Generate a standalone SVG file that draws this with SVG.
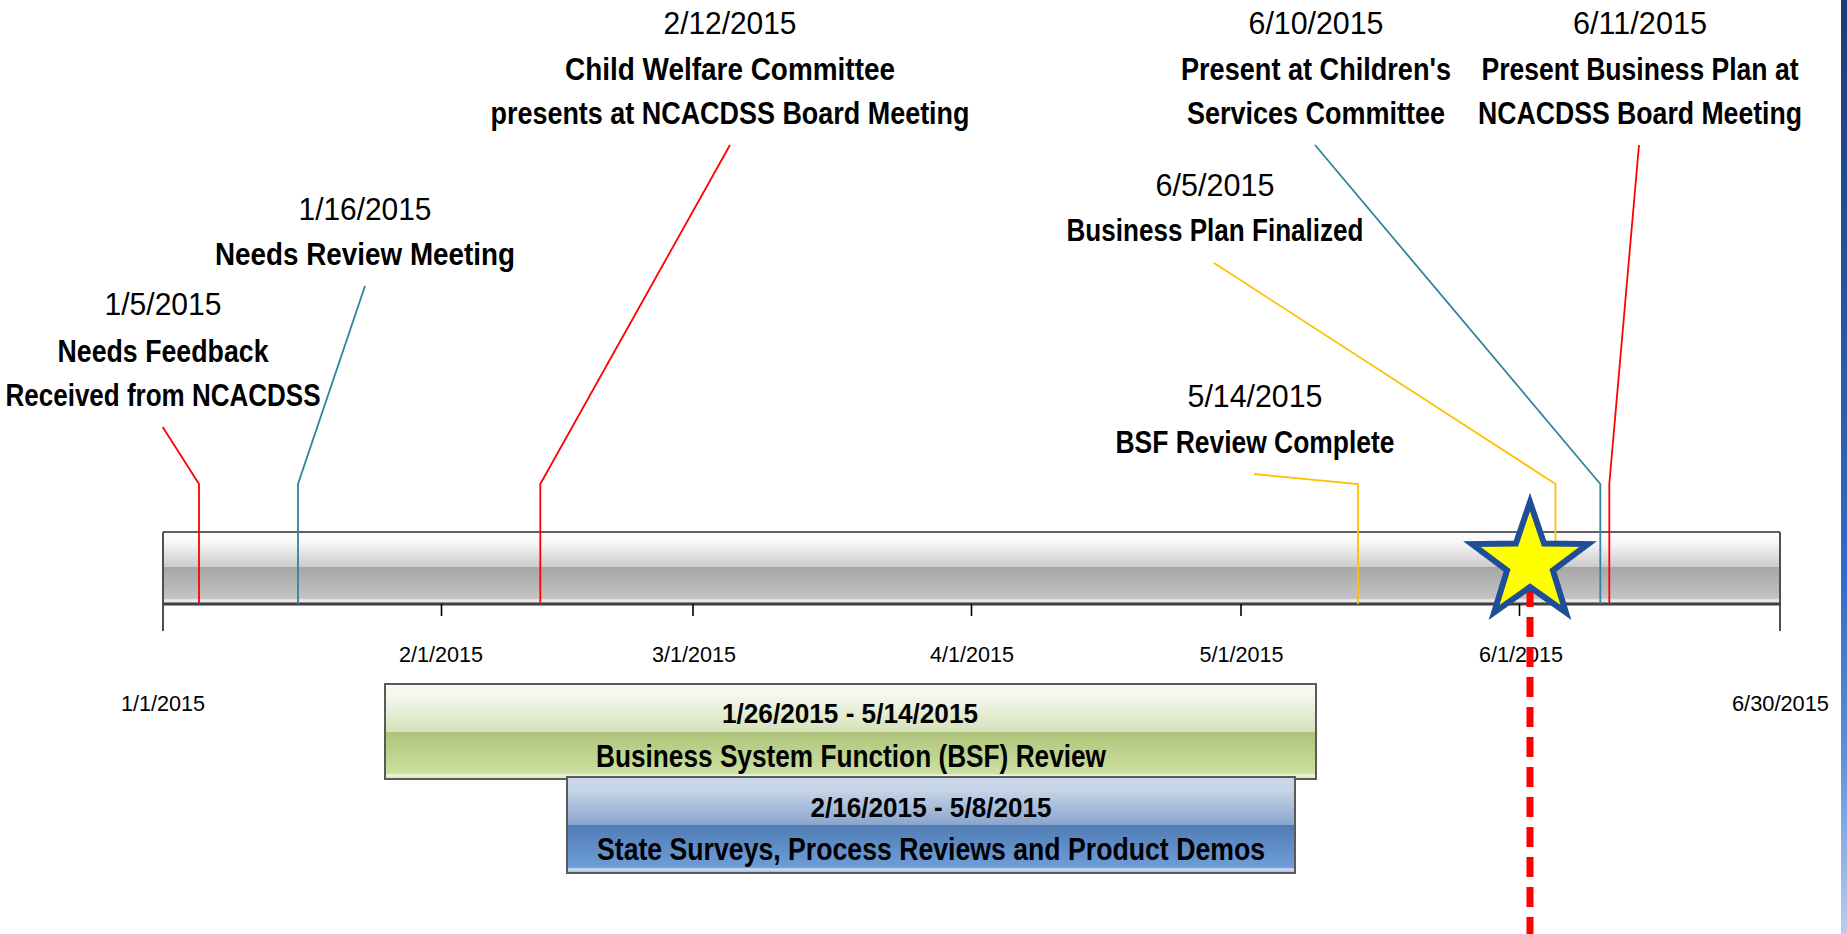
<svg xmlns="http://www.w3.org/2000/svg" width="1847" height="934" viewBox="0 0 1847 934">
  <defs>
    <linearGradient id="barGrad" x1="0" y1="0" x2="0" y2="1">
      <stop offset="0" stop-color="#FFFFFF"/>
      <stop offset="0.15" stop-color="#F6F6F6"/>
      <stop offset="0.48" stop-color="#CCCCCC"/>
      <stop offset="0.485" stop-color="#A6A6A6"/>
      <stop offset="0.92" stop-color="#C3C3C3"/>
      <stop offset="0.945" stop-color="#EDEDED"/>
      <stop offset="1" stop-color="#D8D8D8"/>
    </linearGradient>
    <linearGradient id="greenGrad" x1="0" y1="0" x2="0" y2="1">
      <stop offset="0" stop-color="#F8FAF4"/>
      <stop offset="0.15" stop-color="#F2F6EA"/>
      <stop offset="0.5" stop-color="#D5E1BA"/>
      <stop offset="0.505" stop-color="#AEC47A"/>
      <stop offset="0.94" stop-color="#CCE0A0"/>
      <stop offset="0.96" stop-color="#EEF5DE"/>
      <stop offset="1" stop-color="#D4E4AE"/>
    </linearGradient>
    <linearGradient id="blueGrad" x1="0" y1="0" x2="0" y2="1">
      <stop offset="0" stop-color="#CAD7E8"/>
      <stop offset="0.15" stop-color="#C4D3E6"/>
      <stop offset="0.5" stop-color="#89A5CE"/>
      <stop offset="0.505" stop-color="#517DB4"/>
      <stop offset="0.94" stop-color="#6E9DD8"/>
      <stop offset="0.96" stop-color="#D6E2F2"/>
      <stop offset="1" stop-color="#8FB0DC"/>
    </linearGradient>
    <linearGradient id="stripGrad" x1="0" y1="0" x2="0" y2="1">
      <stop offset="0" stop-color="#1F3B74"/>
      <stop offset="0.35" stop-color="#2856A6"/>
      <stop offset="0.62" stop-color="#2F6CCB"/>
      <stop offset="0.8" stop-color="#5A8EDC"/>
      <stop offset="1" stop-color="#B9CDEF"/>
    </linearGradient>
  </defs>
  <style>
    .date { font-family: "Liberation Sans", Arial, sans-serif; font-size: 32px; fill: #000; text-anchor: middle; }
    .title { font-family: "Liberation Sans", Arial, sans-serif; font-size: 32px; font-weight: bold; fill: #000; text-anchor: middle; }
    .tick-label { font-family: "Liberation Sans", Arial, sans-serif; font-size: 22.5px; fill: #000; text-anchor: middle; }
    .bar-date { font-family: "Liberation Sans", Arial, sans-serif; font-size: 28px; font-weight: bold; fill: #000; text-anchor: middle; }
    .bar-title { font-family: "Liberation Sans", Arial, sans-serif; font-size: 32px; font-weight: bold; fill: #000; text-anchor: middle; }
    .conn { fill: none; stroke-width: 1.8; }
    .red { stroke: #FF0000; }
    .teal { stroke: #31849B; }
    .yellow { stroke: #FFC000; }
    .tick { stroke: #000; stroke-width: 1.6; }
  </style>

  <rect x="0" y="0" width="1847" height="934" fill="#FFFFFF"/>
  <rect x="1841" y="0" width="6" height="934" fill="url(#stripGrad)"/>

  <!-- Timeline bar -->
  <g id="timeline">
    <rect x="163" y="532" width="1617" height="72" fill="url(#barGrad)"/>
    <line x1="163" y1="532" x2="1780" y2="532" stroke="#606060" stroke-width="2"/>
    <line x1="163" y1="532" x2="163" y2="631" stroke="#505050" stroke-width="2"/>
    <line x1="1780" y1="532" x2="1780" y2="631" stroke="#505050" stroke-width="2"/>
    <line x1="163" y1="604" x2="1780" y2="604" stroke="#404040" stroke-width="3"/>
    <line class="tick" x1="441.5" y1="604" x2="441.5" y2="616"/>
    <line class="tick" x1="693" y1="604" x2="693" y2="616"/>
    <line class="tick" x1="971.5" y1="604" x2="971.5" y2="616"/>
    <line class="tick" x1="1241" y1="604" x2="1241" y2="616"/>
    <line class="tick" x1="1519.5" y1="604" x2="1519.5" y2="616"/>
    <text class="tick-label" x="163" y="711" textLength="84" lengthAdjust="spacingAndGlyphs">1/1/2015</text>
    <text class="tick-label" x="441" y="662" textLength="84" lengthAdjust="spacingAndGlyphs">2/1/2015</text>
    <text class="tick-label" x="694" y="662" textLength="84" lengthAdjust="spacingAndGlyphs">3/1/2015</text>
    <text class="tick-label" x="972" y="662" textLength="84" lengthAdjust="spacingAndGlyphs">4/1/2015</text>
    <text class="tick-label" x="1241.5" y="662" textLength="84" lengthAdjust="spacingAndGlyphs">5/1/2015</text>
    <text class="tick-label" x="1521" y="662" textLength="84" lengthAdjust="spacingAndGlyphs">6/1/2015</text>
    <text class="tick-label" x="1780.5" y="711" textLength="97" lengthAdjust="spacingAndGlyphs">6/30/2015</text>
  </g>

  <!-- Connectors -->
  <g id="connectors">
    <polyline class="conn red" points="162.7,427 199,484 199,604"/>
    <polyline class="conn teal" points="365,286 298,484 298,604"/>
    <polyline class="conn red" points="730,145 540.3,484 540.3,604"/>
    <polyline class="conn yellow" points="1254,474 1358,484 1358,604"/>
    <polyline class="conn yellow" points="1214,263 1555.5,484 1555.5,604"/>
    <polyline class="conn teal" points="1315,145 1600.3,484 1600.3,604"/>
    <polyline class="conn red" points="1639,145 1609.3,484 1609.3,604"/>
  </g>

  <!-- Milestones -->
  <g id="m-0105">
    <text class="date" x="163" y="315" textLength="117" lengthAdjust="spacingAndGlyphs">1/5/2015</text>
    <text class="title" x="163" y="362" textLength="211" lengthAdjust="spacingAndGlyphs">Needs Feedback</text>
    <text class="title" x="163" y="406" textLength="315" lengthAdjust="spacingAndGlyphs">Received from NCACDSS</text>
  </g>
  <g id="m-0116">
    <text class="date" x="365" y="220" textLength="133" lengthAdjust="spacingAndGlyphs">1/16/2015</text>
    <text class="title" x="365" y="265" textLength="300" lengthAdjust="spacingAndGlyphs">Needs Review Meeting</text>
  </g>
  <g id="m-0212">
    <text class="date" x="730" y="34" textLength="133" lengthAdjust="spacingAndGlyphs">2/12/2015</text>
    <text class="title" x="730" y="80" textLength="330" lengthAdjust="spacingAndGlyphs">Child Welfare Committee</text>
    <text class="title" x="730" y="124" textLength="479" lengthAdjust="spacingAndGlyphs">presents at NCACDSS Board Meeting</text>
  </g>
  <g id="m-0514">
    <text class="date" x="1255" y="407" textLength="135" lengthAdjust="spacingAndGlyphs">5/14/2015</text>
    <text class="title" x="1255" y="453" textLength="279" lengthAdjust="spacingAndGlyphs">BSF Review Complete</text>
  </g>
  <g id="m-0605">
    <text class="date" x="1215" y="196" textLength="119" lengthAdjust="spacingAndGlyphs">6/5/2015</text>
    <text class="title" x="1215" y="241" textLength="297" lengthAdjust="spacingAndGlyphs">Business Plan Finalized</text>
  </g>
  <g id="m-0610">
    <text class="date" x="1316" y="34" textLength="135" lengthAdjust="spacingAndGlyphs">6/10/2015</text>
    <text class="title" x="1316" y="80" textLength="270" lengthAdjust="spacingAndGlyphs">Present at Children's</text>
    <text class="title" x="1316" y="124" textLength="258" lengthAdjust="spacingAndGlyphs">Services Committee</text>
  </g>
  <g id="m-0611">
    <text class="date" x="1640" y="34" textLength="134" lengthAdjust="spacingAndGlyphs">6/11/2015</text>
    <text class="title" x="1640" y="80" textLength="317" lengthAdjust="spacingAndGlyphs">Present Business Plan at</text>
    <text class="title" x="1640" y="124" textLength="324" lengthAdjust="spacingAndGlyphs">NCACDSS Board Meeting</text>
  </g>

  <!-- Gantt bars -->
  <g id="bsf-review">
    <rect x="385" y="684" width="931" height="95" fill="url(#greenGrad)" stroke="#5A5A5A" stroke-width="2"/>
    <text class="bar-date" x="850" y="723" textLength="256" lengthAdjust="spacingAndGlyphs">1/26/2015 - 5/14/2015</text>
    <text class="bar-title" x="851" y="767" textLength="510" lengthAdjust="spacingAndGlyphs">Business System Function (BSF) Review</text>
  </g>
  <g id="state-surveys">
    <rect x="567" y="777" width="728" height="96" fill="url(#blueGrad)" stroke="#5A5A5A" stroke-width="2"/>
    <text class="bar-date" x="931" y="817" textLength="241" lengthAdjust="spacingAndGlyphs">2/16/2015 - 5/8/2015</text>
    <text class="bar-title" x="931" y="860" textLength="668" lengthAdjust="spacingAndGlyphs">State Surveys, Process Reviews and Product Demos</text>
  </g>

  <!-- Today marker -->
  <g id="today-marker">
    <line x1="1530" y1="587" x2="1530" y2="934" stroke="#FF0000" stroke-width="7" stroke-dasharray="20 10"/>
    <polygon points="1530,502 1544.1,543.6 1588,544.1 1552.9,570.4 1565.9,612.4 1530,587 1494.1,612.4 1507.1,570.4 1472,544.1 1515.9,543.6" fill="#FFFF00" stroke="#1F4E96" stroke-width="6" stroke-linejoin="miter" stroke-miterlimit="10"/>
  </g>
</svg>
